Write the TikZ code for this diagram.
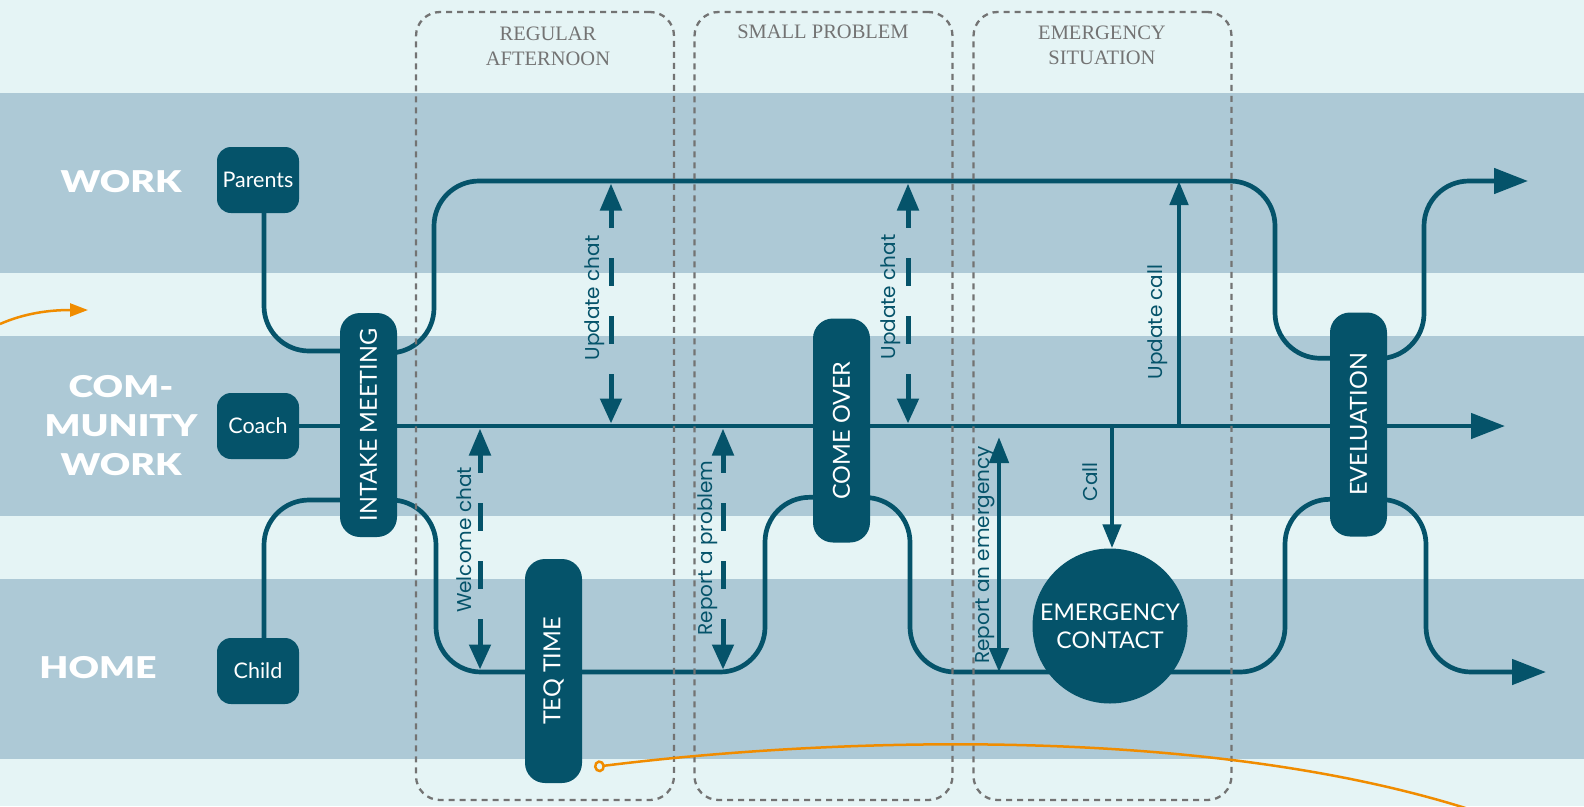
\documentclass[tikz,border=0pt]{standalone}
\usepackage{fontspec}
\usepackage{graphicx}
\setmainfont{Lato}
\newfontfamily\boxfont{Lato}
\newfontfamily\heavyfont{Lato Black}[FakeStretch=1.25]
\newfontfamily\notefont{Poppins}
\newfontfamily\phasefont{Liberation Serif}
\usetikzlibrary{arrows.meta,calc}

\definecolor{band}{HTML}{ADC9D6}
\definecolor{paper}{HTML}{E5F4F5}
\definecolor{teq}{HTML}{05536A}
\definecolor{phasegray}{HTML}{737373}
\definecolor{orangeline}{HTML}{F08C00}

\pgfdeclarelayer{bands}
\pgfdeclarelayer{lines}
\pgfsetlayers{bands,lines,main}

\begin{document}
\begin{tikzpicture}[x=1pt,y=-1pt,
  flow/.style={draw=teq, line width=4.7pt},
  roundbend/.style={rounded corners=45pt},
  lanebox/.style={fill=teq, rounded corners=14pt, minimum width=82pt, minimum height=66pt,
    inner sep=0pt, text=white, font=\boxfont\fontsize{21.5}{24}\selectfont},
  stagebox/.style={fill=teq, rounded corners=20pt, rotate=90, minimum width=224pt,
    minimum height=57pt, inner sep=0pt, text=white, font=\boxfont\fontsize{23.5}{26}\selectfont},
  rowlabel/.style={text=white, align=center, inner sep=0pt,
    font=\heavyfont\fontsize{30}{39}\selectfont},
  note/.style={text=teq, rotate=90, inner sep=0pt, font=\notefont\fontsize{20}{22}\selectfont},
  phase/.style={text=phasegray, align=center, inner sep=0pt,
    font=\phasefont\fontsize{20.5}{25}\selectfont},
  phasebox/.style={draw=phasegray, line width=2.3pt, dash pattern=on 6pt off 5pt,
    rounded corners=24pt, minimum width=258pt, minimum height=788pt, inner sep=0pt},
  chat/.style={draw=teq, line width=5pt, dash pattern=on 28pt off 30pt, dash phase=9pt,
    {Triangle[length=27pt,width=21pt]}-{Triangle[length=25pt,width=21pt]}},
  signal/.style={flow, -{Triangle[length=24pt,width=18pt]}},
  outarrow/.style={flow, roundbend, -{Triangle[length=34pt,width=25pt]}},
  orange/.style={draw=orangeline, line width=2.5pt}
]
\useasboundingbox (0,0) rectangle (1584,806);
\clip (0,0) rectangle (1584,806);

% swim-lane bands
\begin{pgfonlayer}{bands}
  \fill[paper] (0,0) rectangle (1584,806);
  \fill[band] (0,93) rectangle (1584,273);
  \fill[band] (0,336) rectangle (1584,516);
  \fill[band] (0,579) rectangle (1584,759);
\end{pgfonlayer}

% lane labels
\node[rowlabel] (lwork) at (121,182) {WORK};
\node[rowlabel] (lcomm) at (121,426) {COM-\\MUNITY\\WORK};
\node[rowlabel] (lhome) at (98,668) {HOME};

% actors and stages
\node[lanebox] (parents) at (258,180) {Parents};
\node[lanebox] (coach) at (258,426) {Coach};
\node[lanebox] (child) at (258,671) {Child};
\node[stagebox] (intake) at (368.5,425) {INTAKE MEETING};
\node[stagebox] (teq) at (553.5,671) {TEQ TIME};
\node[stagebox] (comeover) at (841.5,430.5) {COME OVER};
\node[stagebox] (evel) at (1358.5,424.5) {EVELUATION};
\node[circle, fill=teq, minimum size=155pt, inner sep=0pt, text=white, align=center,
  font=\boxfont\fontsize{23}{28}\selectfont] (emerg) at (1110,626) {EMERGENCY\\CONTACT};

% free ends of the flows
\coordinate (mainend) at (1505,426);
\coordinate (workend) at (1528,181);
\coordinate (homeend) at (1546,672);

\begin{pgfonlayer}{lines}
  % community line
  \draw[flow, -{Triangle[length=34pt,width=25pt]}] (coach.east) -- (mainend);
  % parents and child into the intake
  \draw[flow, roundbend] ([xshift=6pt]parents.south) |- ($(intake.center)+(0,-74)$);
  \draw[flow, roundbend] ([xshift=6pt]child.north) |- ($(intake.center)+(0,75)$);
  % work line
  \draw[flow, roundbend] ($(intake.center)+(0,-72)$) -| (434,181) -| (1275,358)
    -- ($(evel.center)+(0,-66)$);
  \draw[outarrow] ($(evel.center)+(0,-66)$) -| (1424,181) -- (workend);
  % home line
  \draw[flow, roundbend] ($(intake.center)+(0,75)$) -| (436,672) -| (765,497)
    -- ($(comeover.center)+(0,67)$);
  \draw[flow, roundbend] ($(comeover.center)+(0,67)$) -| (910,672) -| (1285,499)
    -- ($(evel.center)+(0,75)$);
  \draw[outarrow] ($(evel.center)+(0,75)$) -| (1426,672) -- (homeend);
\end{pgfonlayer}

% chats between the lanes
\coordinate (uc1a) at (611,183.5);  \coordinate (uc1b) at (611,423.5);
\coordinate (uc2a) at (908,183.5);  \coordinate (uc2b) at (908,423.5);
\coordinate (wca) at (480,428.5);   \coordinate (wcb) at (480,669.5);
\coordinate (rpa) at (723,428.5);   \coordinate (rpb) at (723,669.5);
\draw[chat] (uc1a) -- (uc1b);
\draw[chat] (uc2a) -- (uc2b);
\draw[chat] (wca) -- (wcb);
\draw[chat] (rpa) -- (rpb);

% calls
\coordinate (ucallb) at (1179,426);  \coordinate (ucalla) at (1179,181);
\coordinate (callb) at (1112,426);
\coordinate (rea) at (999,437);      \coordinate (reb) at (999,672);
\draw[signal] (ucallb) -- (ucalla);
\draw[signal] (callb) -- (callb |- emerg.north);
\draw[flow, {Triangle[length=26pt,width=19pt]}-{Triangle[length=24pt,width=19pt]}] (rea) -- (reb);

% connector labels
\node[note] (tuc1) at (595,298) {Update chat};
\node[note] (tuc2) at (891,297) {Update chat};
\node[note] (twc) at (464,540) {Welcome chat};
\node[note] (trp) at (708,548) {Report a problem};
\node[note] (tucall) at (1158,322) {Update call};
\node[note] (tcall) at (1090,482) {Call};
\node[note] (tre) at (985,555) {Report an emergency};

% scenario frames
\node[phasebox] (regular) at (545,406) {};
\node[phasebox] (small) at (823.5,406) {};
\node[phasebox] (emergency) at (1102.5,406) {};
\node[phase] (tregular) at (548,46) {REGULAR\\AFTERNOON};
\node[phase] (tsmall) at (823,32) {SMALL PROBLEM};
\node[phase] (temergency) at (1102,45) {EMERGENCY\\SITUATION};

% links leaving the frame
\coordinate (oin) at (0,324);
\coordinate (oinend) at (88,310);
\coordinate (oout) at (594,767);
\coordinate (ooutend) at (1540,835);
\draw[orange, -{Triangle[length=18pt,width=13pt]}] (oin) .. controls (25,313) and (50,310) .. (oinend);
\draw[orange, {Circle[open,length=11pt,width=12pt]}-] (oout) .. controls (850,735) and (1270,722) .. (ooutend);
\end{tikzpicture}
\end{document}
